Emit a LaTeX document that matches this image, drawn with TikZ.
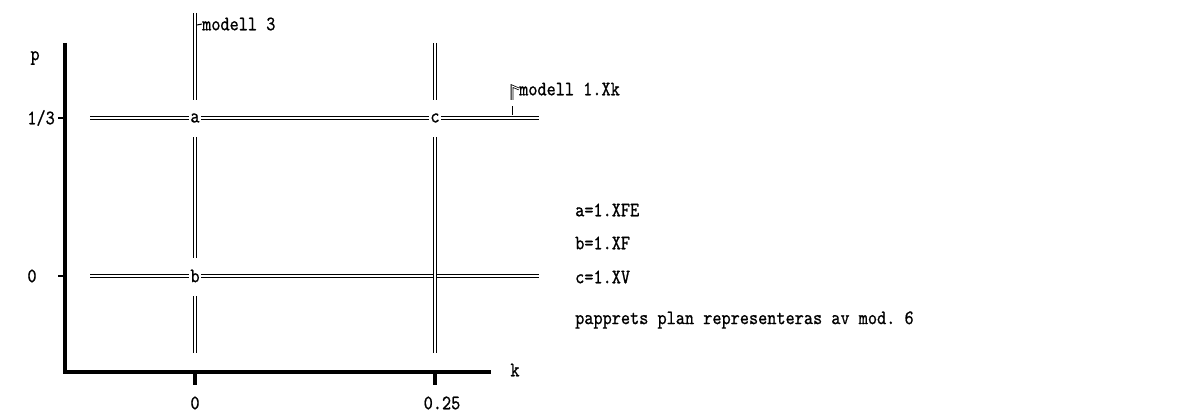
\documentclass[tikz,border=0pt]{standalone}
\usepackage{fontspec}
\setmonofont{lmmono10-regular}[Extension=.otf, FakeStretch=0.85, FakeBold=0.8]
\usetikzlibrary{calc}
\begin{document}
\begin{tikzpicture}[x=1pt,y=-1pt,font=\ttfamily\fontsize{20.5}{24}\selectfont,
  dbl/.style={draw, double, double distance=1.4pt, line width=1pt},
  axisline/.style={line width=4pt},
  lbl/.style={inner sep=1pt},
  txt/.style={inner sep=0pt, anchor=west}]
\useasboundingbox (0,0) rectangle (1184,414);
% axes
\coordinate (ytop) at (65,43);
\coordinate (orig) at (65,374);
\coordinate (xend) at (491,372);
\draw[axisline] (ytop) -- (orig);
\draw[axisline] (63,372) -- (xend);
\draw[line width=4pt] (195,372) -- (195,385);
\draw[line width=4pt] (435,372) -- (435,385);
\draw[line width=1.4pt] (58,118) -- (63,118);
\draw[line width=1.4pt] (58,276) -- (63,276);
% axis labels
\node[lbl] (p) at (35,58) {p};
\node[lbl, anchor=east] (p13) at (56,118) {1/3};
\node[lbl] (p0) at (32,276) {0};
\node[lbl] (k0) at (195,403) {0};
\node[lbl] (k25) at (442,403) {0.25};
\node[lbl] (k) at (515,370) {k};
% points
\node[lbl] (a) at (195,118) {a};
\node[lbl] (b) at (195,276) {b};
\node[lbl] (c) at (435,118) {c};
% horizontal model lines
\coordinate (h1l) at (90,118);
\coordinate (h1r) at (539,118);
\coordinate (h2l) at (90,276);
\coordinate (h2r) at (539,276);
\draw[dbl] (h1l) -- (a.west);
\draw[dbl] (a.east) -- (c.west);
\draw[dbl] (c.east) -- (h1r);
\draw[dbl] (h2l) -- (b.west);
\draw[dbl] (b.east) -- (h2r);
% vertical model lines
\coordinate (v1t) at (195,13);
\coordinate (v1b) at (195,353);
\coordinate (v2t) at (435,43);
\coordinate (v2b) at (435,353);
\draw[dbl] (v1t) -- ($(a)+(0,-18)$);
\draw[dbl] ($(a)+(0,19)$) -- ($(b)+(0,-18)$);
\draw[dbl] ($(b)+(0,20)$) -- (v1b);
\draw[dbl] (v2t) -- ($(c)+(0,-18)$);
\draw[dbl] ($(c)+(0,19)$) -- (v2b);
% model labels
\node[txt] (m3) at (202,24) {modell 3};
\draw[line width=1pt] (197,25) -- (m3.west);
\node[txt] (m1) at (519,89) {modell 1.Xk};
\draw[line width=0.8pt, double, double distance=1pt] (512,100) -- (512,86) -- (m1.west);
\draw[line width=0.8pt, double, double distance=1pt] (504,116) -- (513,116) -- (513,106);
% legend
\node[txt] (la) at (575,210) {a=1.XFE};
\node[txt] (lb) at (575,243) {b=1.XF};
\node[txt] (lc) at (575,277) {c=1.XV};
\node[txt] (lp) at (575,320) {papprets plan representeras av mod. 6};
\end{tikzpicture}
\end{document}
